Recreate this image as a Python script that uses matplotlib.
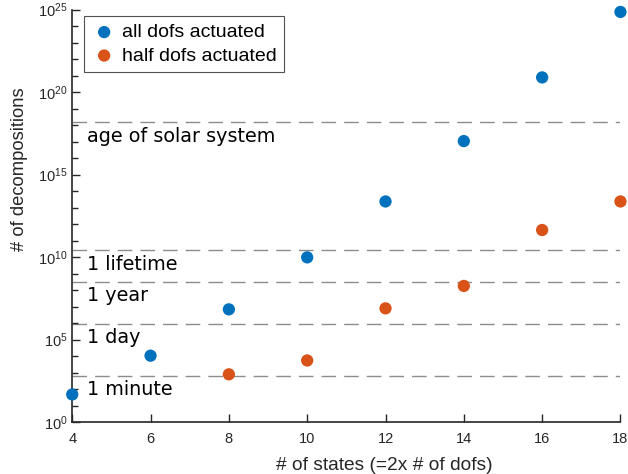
"""
Number of decompositions vs number of states, with reference time scales
(assuming ~10 decompositions evaluated per second).
"""

import numpy as np
import matplotlib
matplotlib.use("Agg")
import matplotlib.pyplot as plt

plt.rcParams["font.family"] = ["Liberation Sans", "DejaVu Sans"]
plt.rcParams["mathtext.default"] = "regular"

# data
n_states_all = [4, 6, 8, 10, 12, 14, 16, 18]
log_decomp_all = [1.67, 4.02, 6.83, 9.98, 13.37, 17.03, 20.89, 24.86]
n_states_half = [8, 10, 12, 14, 16, 18]
log_decomp_half = [2.89, 3.73, 6.89, 8.25, 11.64, 13.37]

ref_labels = ["1 minute", "1 day", "1 year", "1 lifetime", "age of solar system"]
ref_values = [6.0e2, 8.64e5, 3.15e8, 2.5e10, 1.45e18]

_BLUE = "#0072BD"
_ORANGE = "#D95319"
_AX = "#262626"

fig = plt.figure(figsize=(6.28, 4.74), dpi=100)
ax = fig.add_axes((0.115, 0.1097, 0.873, 0.870))

for lab, val in zip(ref_labels, ref_values):
    ax.axhline(val, color="#8c8c8c", lw=1.0, dashes=(10.5, 5.8), zorder=1)
    ax.annotate(lab, xy=(4.37, val), xytext=(0, -3), textcoords="offset points",
                va="top", ha="left", fontsize=13.8, family="DejaVu Sans", color="black")

ax.scatter(n_states_all, 10.0 ** np.array(log_decomp_all), s=78, color=_BLUE,
           edgecolors="none", label="all dofs actuated", zorder=3, clip_on=False)
ax.scatter(n_states_half, 10.0 ** np.array(log_decomp_half), s=78, color=_ORANGE,
           edgecolors="none", label="half dofs actuated", zorder=3, clip_on=False)

ax.set_yscale("log")
ax.set_xlim(4, 18)
ax.set_ylim(1, 1e25)
ax.set_xticks(range(4, 19, 2))
ax.set_yticks([10.0 ** k for k in range(0, 26, 5)])
ax.set_yticks([10.0 ** k for k in range(0, 26) if k % 5], minor=True)
ax.yaxis.set_minor_formatter(matplotlib.ticker.NullFormatter())

for side in ("top", "right"):
    ax.spines[side].set_visible(False)
for side in ("left", "bottom"):
    ax.spines[side].set_color(_AX)
    ax.spines[side].set_linewidth(1.2)
ax.tick_params(which="both", direction="in", colors=_AX, labelsize=10.5, width=1.0)
ax.tick_params(which="major", length=6)
ax.tick_params(which="minor", length=4)
ax.tick_params(axis="x", pad=7)

ax.set_xlabel("# of states (=2x # of dofs)", fontsize=13.8, color=_AX)
ax.set_ylabel("# of decompositions", fontsize=13.2, color=_AX)
ax.xaxis.set_label_coords(0.570, -0.085)
ax.yaxis.set_label_coords(-0.080, 0.614)

leg = ax.legend(loc="upper left", bbox_to_anchor=(0.021, 0.985), fontsize=14,
                frameon=True, fancybox=False, handletextpad=0.25, borderpad=0.4,
                labelspacing=0.3, handlelength=1.3, borderaxespad=0.0)
leg.get_frame().set_edgecolor(_AX)
leg.get_frame().set_linewidth(0.8)

fig.savefig("out.png", dpi=100)
